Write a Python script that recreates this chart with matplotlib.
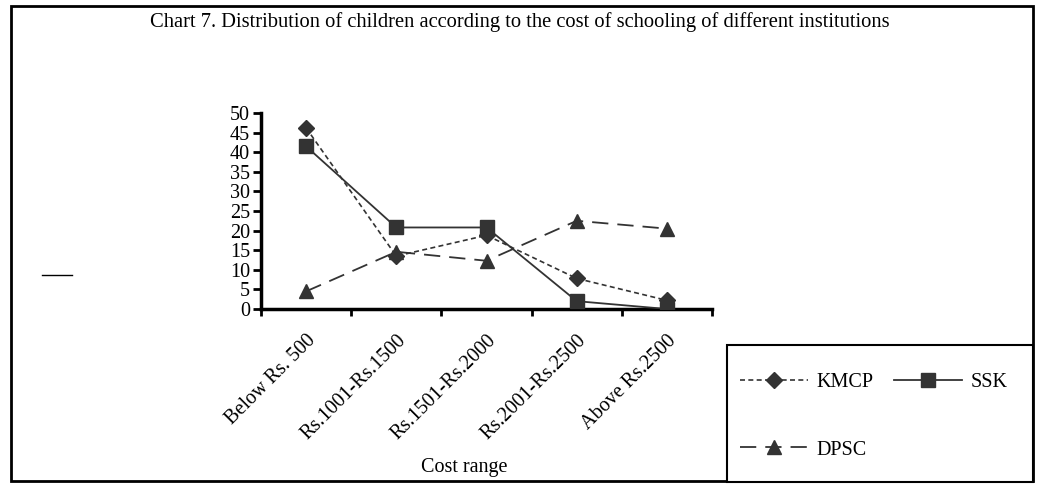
import matplotlib
matplotlib.use("Agg")
from matplotlib import pyplot as plt
from matplotlib.patches import Rectangle
from matplotlib.lines import Line2D

# Share of children (%) by cost range for each institution
cost_ranges = ["Below Rs. 500", "Rs.1001-Rs.1500", "Rs.1501-Rs.2000",
               "Rs.2001-Rs.2500", "Above Rs.2500"]
kmcp = [46.2, 13.5, 18.8, 7.8, 2.2]
ssk = [41.5, 20.8, 20.8, 2.0, 0.0]
dpsc = [4.5, 14.6, 12.3, 22.5, 20.5]

plt.rcParams["font.family"] = ["Liberation Serif", "DejaVu Serif"]
ink = "#333333"
W, H = 1039, 492

fig = plt.figure(figsize=(W / 100, H / 100), dpi=100)
ax = fig.add_axes([261 / W, 1 - 309 / H, 451 / W, 196 / H])

x = list(range(1, len(cost_ranges) + 1))
l1, = ax.plot(x, kmcp, color=ink, lw=1.2, ls=(0, (3, 2)), marker="D",
              markersize=8, label="KMCP", zorder=3)
l2, = ax.plot(x, ssk, color=ink, lw=1.3, ls="-", marker="s",
              markersize=10, label="SSK", zorder=3)
l3, = ax.plot(x, dpsc, color=ink, lw=1.3, ls=(0, (9, 5)), marker="^",
              markersize=10, label="DPSC", zorder=3)

ax.set_xlim(0.5, len(cost_ranges) + 0.5)
ax.set_ylim(0, 50)
ax.set_yticks(range(0, 51, 5))
# tick marks sit between categories, labels under each category
ax.set_xticks([i + 0.5 for i in range(len(cost_ranges) + 1)])
ax.set_xticklabels([])
ax.set_xticks(x, minor=True)
ax.set_xticklabels(cost_ranges, minor=True, rotation=45, ha="right",
                   rotation_mode="anchor", fontsize=14.5)
ax.tick_params(axis="x", which="minor", length=0, pad=16)
ax.tick_params(axis="x", which="major", length=5, width=2, direction="out")
ax.tick_params(axis="y", length=6, width=2, direction="out", labelsize=14.5, pad=2)
for side in ["top", "right"]:
    ax.spines[side].set_visible(False)
for side in ["left", "bottom"]:
    ax.spines[side].set_linewidth(2.5)
ax.set_xlabel("Cost range", fontsize=14.5, labelpad=0)
ax.xaxis.set_label_coords(0.45, -0.76)

fig.text(520 / W, 1 - 22 / H, "Chart 7. Distribution of children according "
         "to the cost of schooling of different institutions",
         ha="center", va="center", fontsize=14.8)
fig.add_artist(Line2D([42 / W, 72 / W], [1 - 275 / H, 1 - 275 / H],
                      transform=fig.transFigure, color="black", lw=1))

# legend box
fig.add_artist(Rectangle((727 / W, 1 - 482 / H), 306 / W, 137 / H,
                         transform=fig.transFigure, facecolor="white",
                         edgecolor="black", linewidth=1.5, zorder=9))
leg = fig.legend([l1, l3, l2], ["KMCP", "DPSC", "SSK"], ncol=2,
                 loc="upper left", bbox_to_anchor=(740 / W, 1 - 373 / H),
                 frameon=False, fontsize=14.5, handlelength=3.4,
                 handletextpad=0.4, columnspacing=1.0, labelspacing=2.4,
                 borderpad=0, borderaxespad=0)
leg.set_zorder(10)

fig.add_artist(Rectangle((11 / W, 1 - 481 / H), 1022 / W, 475 / H,
                         transform=fig.transFigure, fill=False,
                         edgecolor="black", linewidth=2))

fig.savefig("out.png", dpi=100)
